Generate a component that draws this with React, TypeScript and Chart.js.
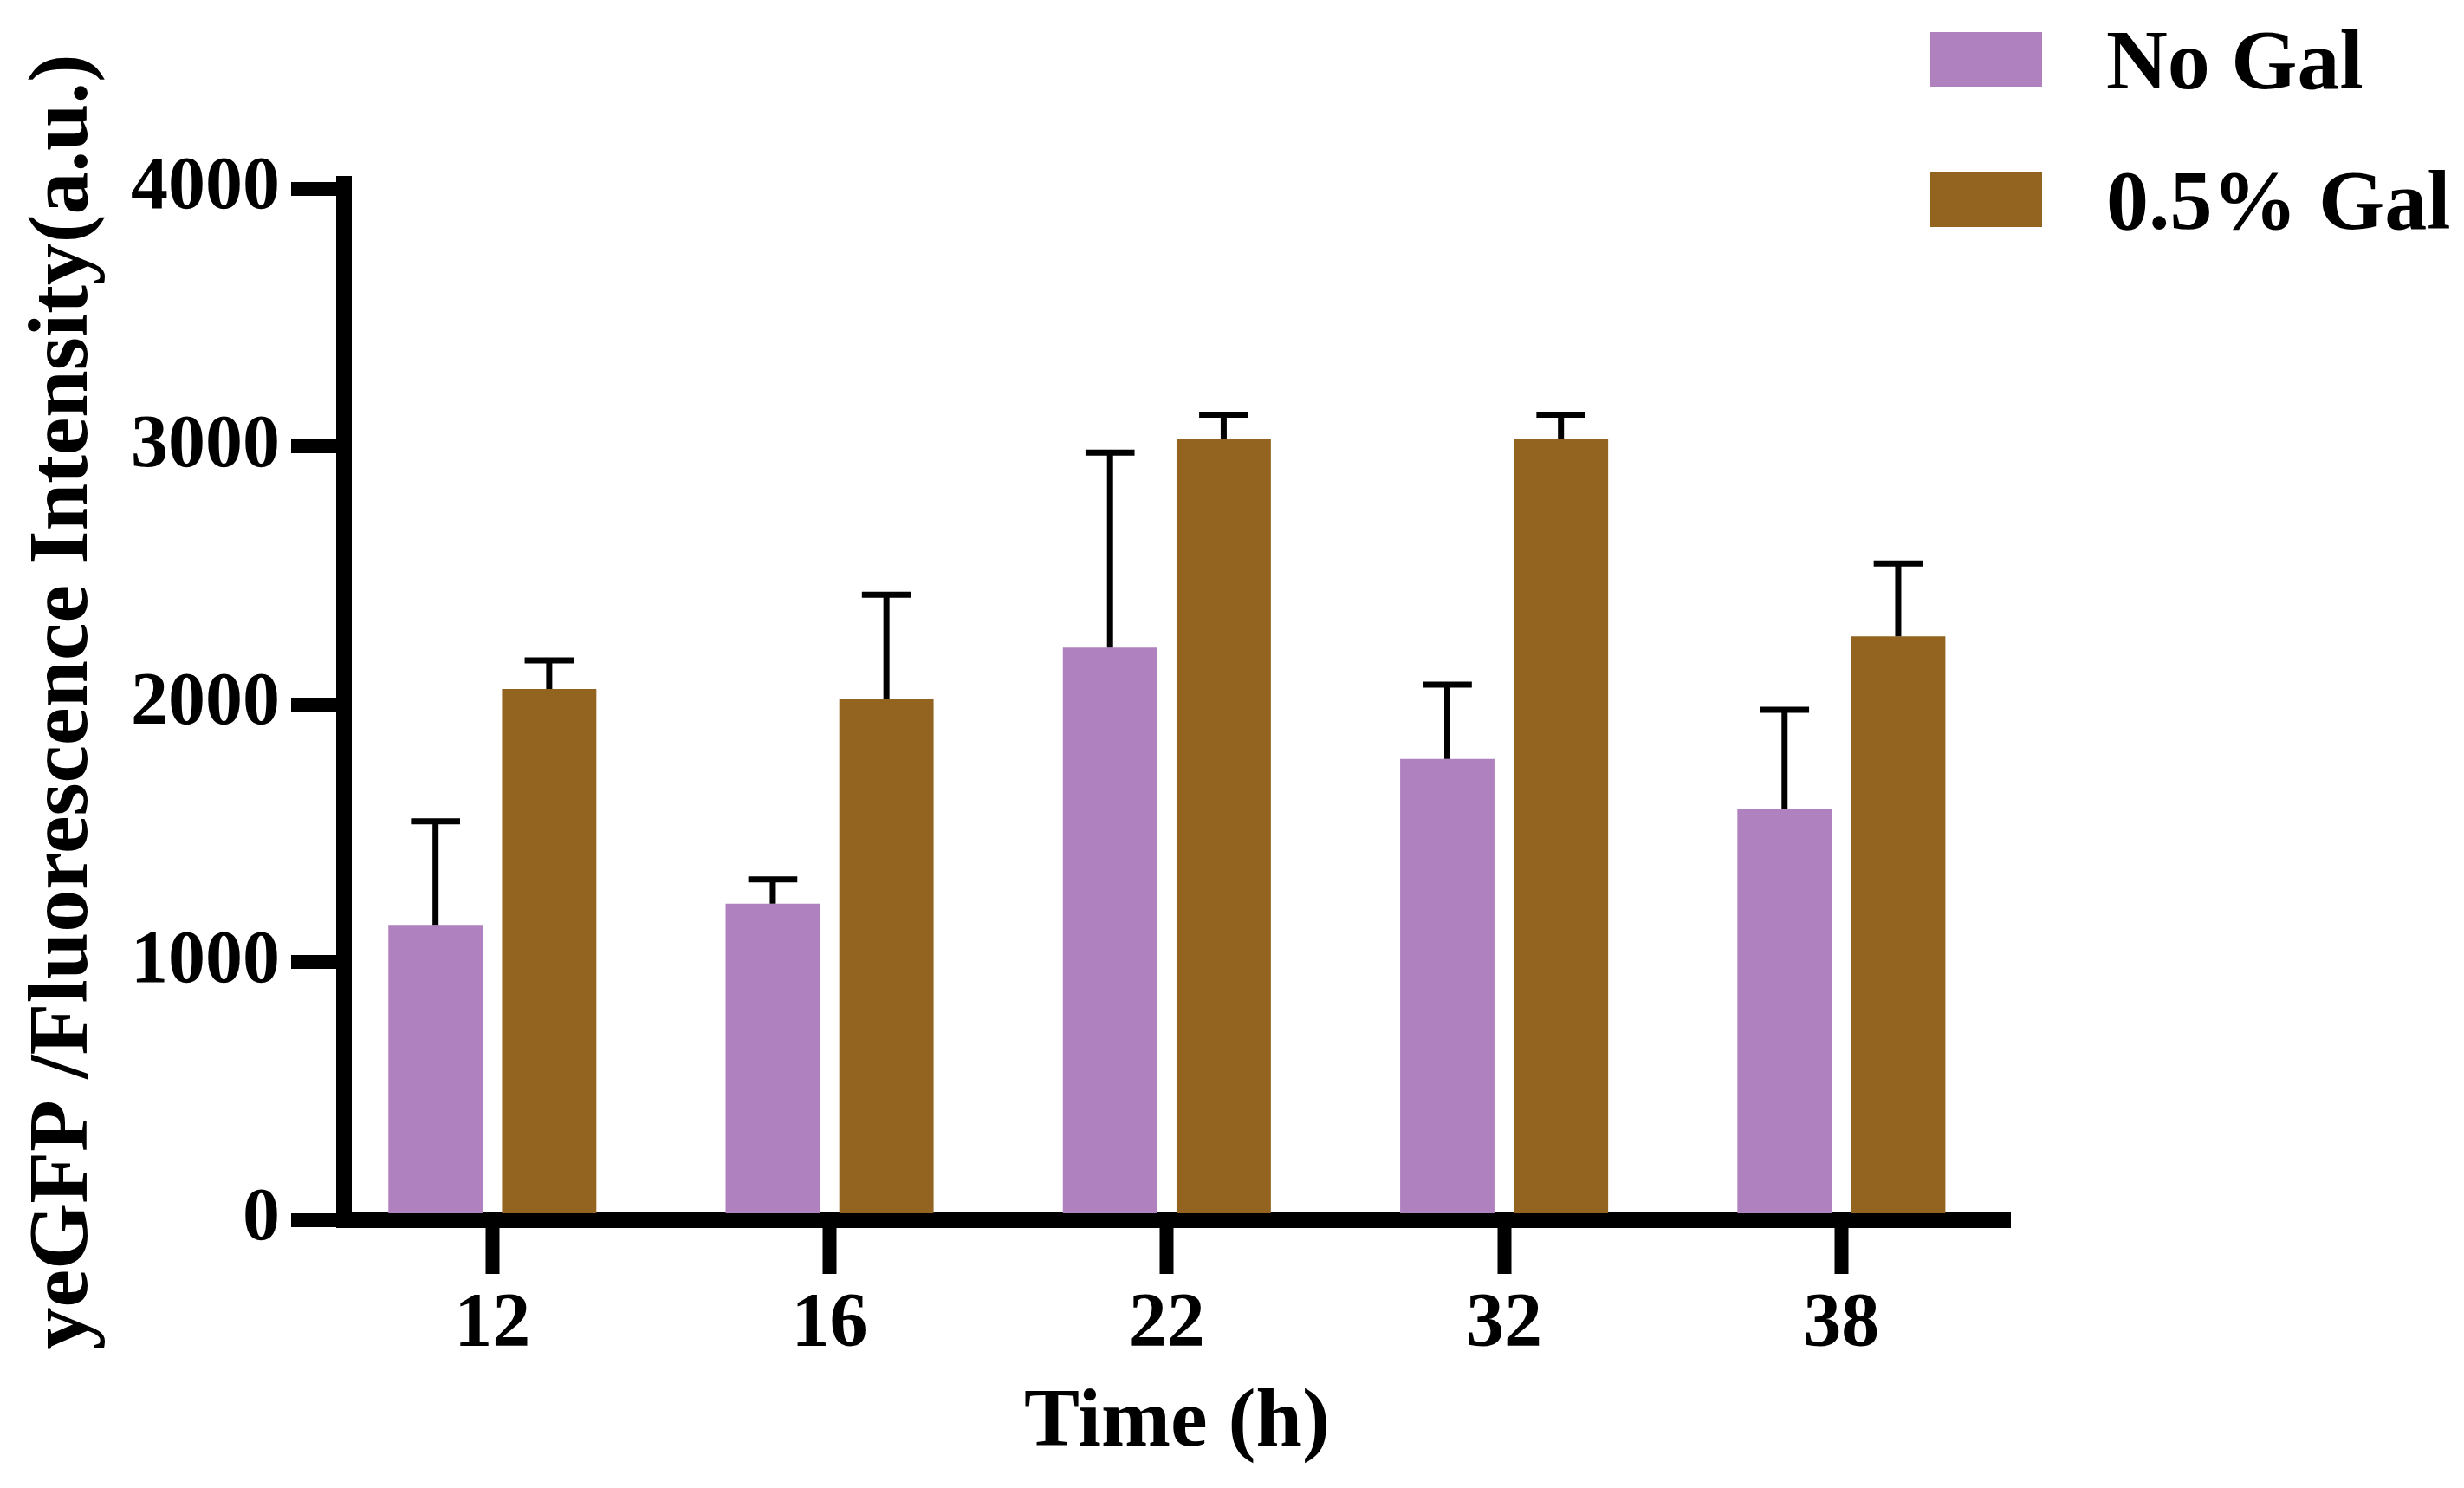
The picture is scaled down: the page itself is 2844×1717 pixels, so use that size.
import React, { useEffect, useRef } from 'react';
import { Chart, registerables } from 'chart.js';

Chart.register(...registerables);

const categories = ['12', '16', '22', '32', '38'];
const noGalMean = [1145, 1228, 2221, 1789, 1594];
const noGalSD = [402, 94, 756, 288, 386];
const galMean = [2060, 2020, 3030, 3030, 2265];
const galSD = [111, 406, 94, 94, 282];
const yTicks = [0, 1000, 2000, 3000, 4000];
const seriesLabels = ['No Gal', '0.5% Gal'];
const seriesColors = ['#B081BF', '#936320'];
const xTitle = 'Time (h)';
const yTitle = 'yeGFP /Fluorescence Intensity(a.u.)';

const FONT = "'Liberation Serif', 'Times New Roman', Times, serif";

export default function App() {
  const ref = useRef<HTMLCanvasElement>(null);

  useEffect(() => {
    document.body.style.margin = '0';
    const canvas = ref.current;
    if (!canvas) return;
    const sds = [noGalSD, galSD];

    const errorBarPlugin = {
      id: 'errorBars',
      afterDatasetsDraw(chart: any) {
        const ctx = chart.ctx;
        const yScale = chart.scales.y;
        ctx.save();
        ctx.strokeStyle = '#000';
        ctx.lineWidth = 7;
        chart.data.datasets.forEach((ds: any, di: number) => {
          const meta = chart.getDatasetMeta(di);
          meta.data.forEach((el: any, i: number) => {
            const v = ds.data[i].y;
            const top = yScale.getPixelForValue(v + sds[di][i]);
            const half = el.width * 0.26;
            ctx.beginPath();
            ctx.moveTo(el.x, el.y);
            ctx.lineTo(el.x, top);
            ctx.moveTo(el.x - half, top);
            ctx.lineTo(el.x + half, top);
            ctx.stroke();
          });
        });
        ctx.restore();
      },
    };

    const legendPlugin = {
      id: 'sideLegend',
      afterDraw(chart: any) {
        const ctx = chart.ctx;
        const boxX = chart.width - 616;
        ctx.save();
        chart.data.datasets.forEach((ds: any, i: number) => {
          const rowY = 37 + i * 162;
          ctx.fillStyle = ds.backgroundColor;
          ctx.fillRect(boxX, rowY, 129, 63);
          ctx.fillStyle = '#000';
          ctx.font = `bold 98px ${FONT}`;
          ctx.textBaseline = 'alphabetic';
          ctx.textAlign = 'left';
          ctx.fillText(ds.label, boxX + 203, rowY + 65);
        });
        ctx.restore();
      },
    };

    const chart = new Chart(canvas, {
      type: 'bar',
      data: {
        datasets: [
          {
            label: seriesLabels[0],
            data: noGalMean.map((v, i) => ({ x: i, y: v })),
            backgroundColor: seriesColors[0],
            borderWidth: 0,
          },
          {
            label: seriesLabels[1],
            data: galMean.map((v, i) => ({ x: i, y: v })),
            backgroundColor: seriesColors[1],
            borderWidth: 0,
          },
        ],
      },
      options: {
        animation: false,
        responsive: true,
        maintainAspectRatio: false,
        devicePixelRatio: 1,
        categoryPercentage: 0.674,
        barPercentage: 0.83,
        layout: { padding: { left: 0, top: 212, right: 524, bottom: 0 } },
        plugins: {
          legend: { display: false },
          tooltip: { enabled: false },
          title: { display: false },
        },
        scales: {
          x: {
            type: 'linear',
            min: -0.44,
            max: 4.5,
            offset: false,
            z: 1,
            afterBuildTicks: (scale: any) => {
              scale.ticks = categories.map((_, i) => ({ value: i }));
            },
            afterFit: (scale: any) => {
              scale.height = 309;
            },
            grid: {
              display: true,
              offset: false,
              drawOnChartArea: false,
              drawTicks: true,
              tickLength: 62,
              tickWidth: 16,
              tickColor: '#000',
              lineWidth: 1,
              color: '#000',
            },
            border: { display: true, color: '#000', width: 18 },
            ticks: {
              color: '#000',
              padding: 6,
              maxRotation: 0,
              autoSkip: false,
              font: { family: FONT, size: 88, weight: 'bold' },
              callback: (v: any) => categories[Math.round(Number(v))] ?? '',
            },
            title: {
              display: true,
              text: xTitle,
              color: '#000',
              font: { family: FONT, size: 96, weight: 'bold' },
              padding: { top: 0, bottom: 16 },
            },
          },
          y: {
            type: 'linear',
            min: 0,
            max: 4020,
            z: 1,
            afterBuildTicks: (scale: any) => {
              scale.ticks = yTicks.map((v) => ({ value: v }));
            },
            afterFit: (scale: any) => {
              scale.width = 397;
            },
            grid: {
              display: true,
              drawOnChartArea: false,
              drawTicks: true,
              tickLength: 61,
              tickWidth: 16,
              tickColor: '#000',
              lineWidth: 16,
              color: '#000',
            },
            border: { display: true, color: '#000', width: 18 },
            ticks: {
              color: '#000',
              padding: 13,
              autoSkip: false,
              font: { family: FONT, size: 86, weight: 'bold' },
              callback: (v: any) => String(v),
            },
            title: {
              display: true,
              text: yTitle,
              color: '#000',
              font: { family: FONT, size: 98, weight: 'bold' },
              padding: { top: 16, bottom: 0 },
            },
          },
        },
      } as any,
      plugins: [errorBarPlugin, legendPlugin],
    });

    return () => {
      chart.destroy();
    };
  }, []);

  return (
    <div
      style={{
        position: 'fixed',
        left: 0,
        top: 0,
        width: '2844px',
        height: '1717px',
        background: '#fff',
        overflow: 'hidden',
      }}
    >
      <canvas ref={ref} />
    </div>
  );
}
